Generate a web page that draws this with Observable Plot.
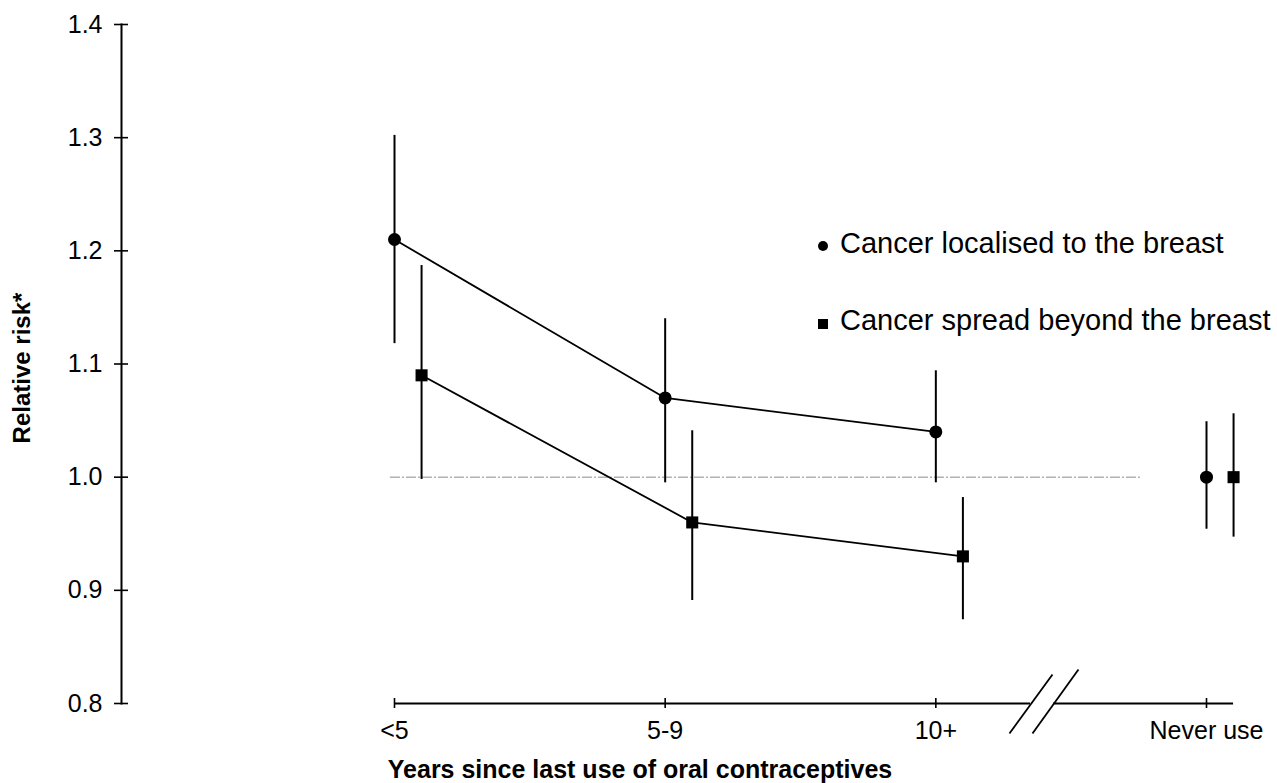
<!DOCTYPE html>
<html>
<head>
<meta charset="utf-8">
<script src="https://cdn.jsdelivr.net/npm/d3@7"></script>
<script src="https://cdn.jsdelivr.net/npm/@observablehq/plot@0.6"></script>
<style>
  body { margin: 0; background: #fff; }
  #wrap { position: relative; width: 1277px; height: 783px; font-family: Arial, "Liberation Sans", Helvetica, sans-serif; color: #000; }
  #chart { position: absolute; left: 0; top: 0; }
  .ytitle { position: absolute; left: 22px; top: 368px; transform: translate(-50%, -50%) rotate(-90deg); font-weight: bold; font-size: 24px; white-space: nowrap; line-height: 1; }
  .xtitle { position: absolute; left: 640px; top: 757px; transform: translateX(-50%); font-weight: bold; font-size: 25px; white-space: nowrap; line-height: 1; }
  .legtxt { position: absolute; left: 840px; font-size: 29px; white-space: nowrap; line-height: 1; }
  .mk { position: absolute; width: 10px; height: 10px; background: #000; }
  .mk.c { border-radius: 50%; }
</style>
</head>
<body>
<div id="wrap">
  <div id="chart"></div>
  <div class="ytitle">Relative risk*</div>
  <div class="xtitle">Years since last use of oral contraceptives</div>
  <div class="mk c" style="left:818px; top:241px"></div>
  <div class="legtxt" id="lt1" style="top:229px"></div>
  <div class="mk" style="left:818px; top:319px"></div>
  <div class="legtxt" id="lt2" style="top:306px"></div>
</div>
<script>
// ---- Data ----
const categories = ["<5", "5-9", "10+", "Never use"];
const seriesNames = ["Cancer localised to the breast", "Cancer spread beyond the breast"];

const localisedRR = [1.21, 1.07, 1.04, 1.00];
const localisedLo = [1.118, 0.995, 0.995, 0.954];
const localisedHi = [1.302, 1.140, 1.094, 1.049];

const spreadRR = [1.09, 0.96, 0.93, 1.00];
const spreadLo = [0.998, 0.891, 0.874, 0.947];
const spreadHi = [1.187, 1.041, 0.982, 1.056];

const yTicks = [0.8, 0.9, 1.0, 1.1, 1.2, 1.3, 1.4];
const xTicks = [0, 1, 2, 3];
const seriesOffset = [0, 0.1];          // horizontal dodge of the two series (category units)
const referenceRR = 1.0;
const referenceExtent = [-0.015, 2.756];
const axisSegments = [[0, 2.35], [2.435, 3.1]];   // x axis line with a break
const breakSlashes = [
  {x1: 2.272, y1: 0.7735, x2: 2.431, y2: 0.8256},
  {x1: 2.357, y1: 0.7735, x2: 2.527, y2: 0.830}
];

// ---- Build rows ----
function rows(rr, lo, hi, s) {
  return categories.map((c, i) => ({cat: c, i, x: i + seriesOffset[s], rr: rr[i], lo: lo[i], hi: hi[i], series: seriesNames[s]}));
}
const loc = rows(localisedRR, localisedLo, localisedHi, 0);
const spr = rows(spreadRR, spreadLo, spreadHi, 1);
const all = loc.concat(spr);
const ever = d => d.i < 3;

document.getElementById("lt1").textContent = seriesNames[0];
document.getElementById("lt2").textContent = seriesNames[1];

const chart = Plot.plot({
  width: 1277,
  height: 783,
  marginLeft: 121,
  marginTop: 24,
  marginBottom: 80,
  marginRight: 44,
  style: {fontFamily: "Arial, 'Liberation Sans', Helvetica, sans-serif", fontSize: "25px", background: "white", color: "black", overflow: "visible"},
  x: {domain: [0, 3], range: [394, 1206]},
  y: {domain: [0.8, 1.4], range: [703, 24]},
  marks: [
    // reference line at RR = 1
    Plot.ruleY([referenceRR], {x1: referenceExtent[0], x2: referenceExtent[1], stroke: "#8a8a8a", strokeWidth: 1, strokeDasharray: "10,2,2,2"}),
    // y axis line
    Plot.frame({anchor: "left", stroke: "black", strokeWidth: 2}),
    // x axis line with break
    Plot.ruleY(axisSegments, {y: () => 0.8, x1: d => d[0], x2: d => d[1], stroke: "black", strokeWidth: 2}),
    Plot.link(breakSlashes, {x1: "x1", y1: "y1", x2: "x2", y2: "y2", stroke: "black", strokeWidth: 1.8}),
    // axes
    Plot.axisY(yTicks, {anchor: "left", tickSize: 14, dx: 7, tickPadding: 12, tickFormat: d3.format(".1f"), fontSize: 25, strokeWidth: 1.6, label: null}),
    Plot.axisX(xTicks, {anchor: "bottom", tickSize: 10, dy: -5, tickPadding: 13, tickFormat: i => categories[i], fontSize: 25, strokeWidth: 1.6, label: null}),
    // error bars
    Plot.ruleX(all, {x: "x", y1: "lo", y2: "hi", stroke: "black", strokeWidth: 2}),
    // connecting lines (ever users only)
    Plot.line(loc.filter(ever), {x: "x", y: "rr", stroke: "black", strokeWidth: 1.8}),
    Plot.line(spr.filter(ever), {x: "x", y: "rr", stroke: "black", strokeWidth: 1.8}),
    // markers
    Plot.dot(loc, {x: "x", y: "rr", r: 6.5, fill: "black", symbol: "circle"}),
    Plot.dot(spr, {x: "x", y: "rr", r: 6.8, fill: "black", symbol: "square"})
  ]
});
document.getElementById("chart").appendChild(chart);
</script>
</body>
</html>
